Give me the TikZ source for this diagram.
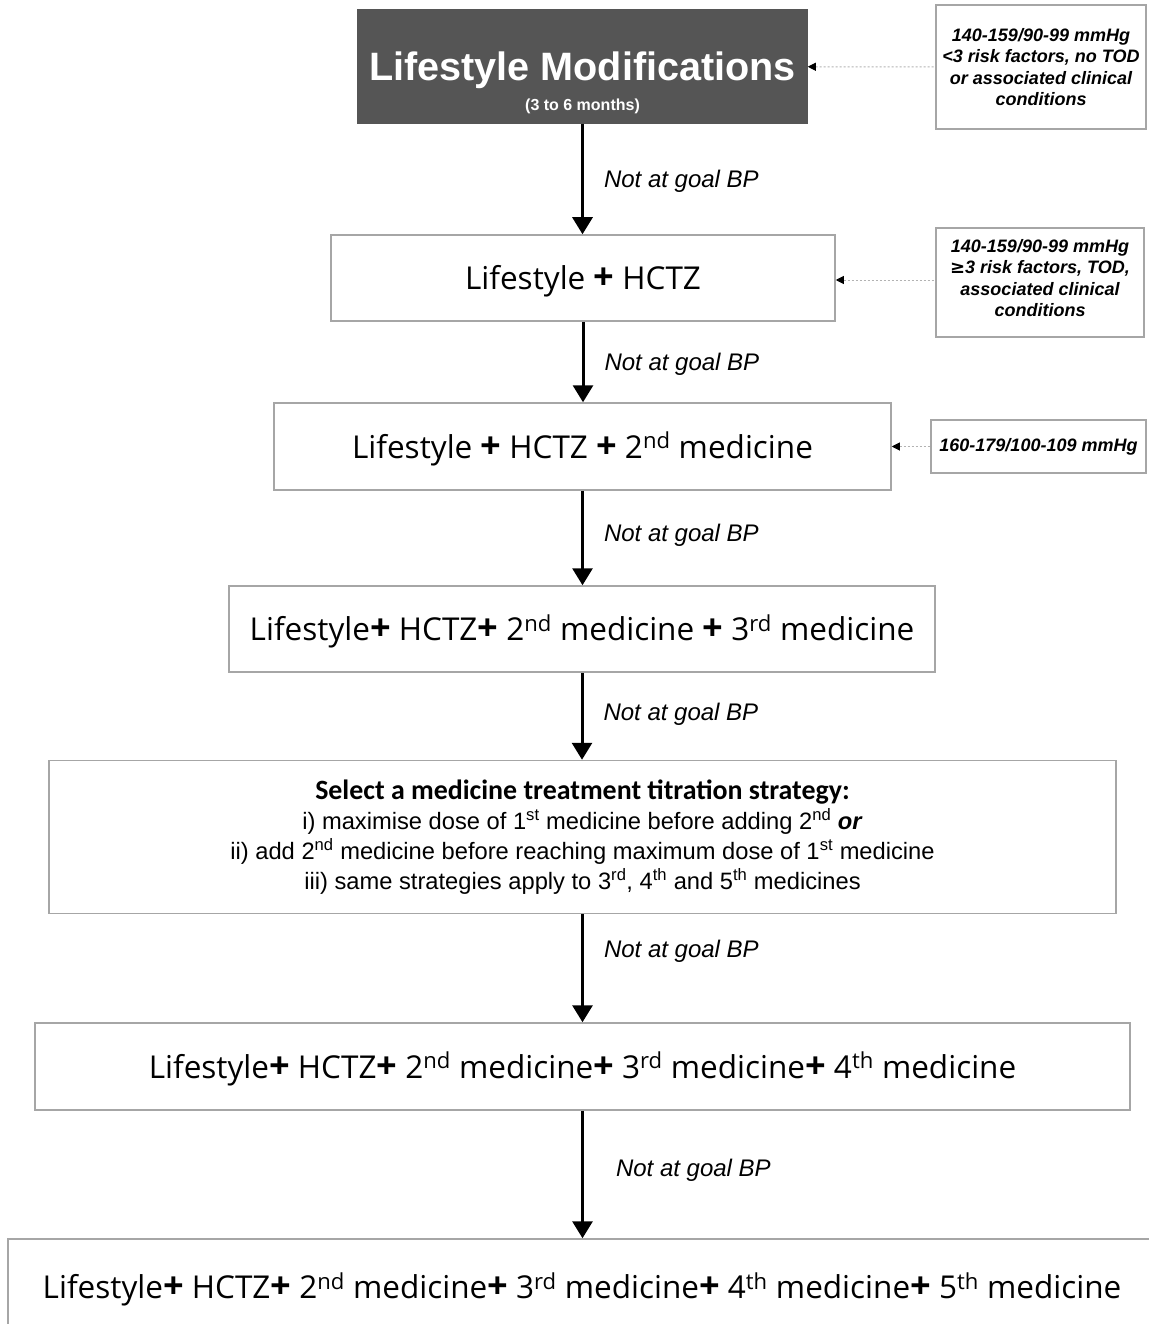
\documentclass[tikz,border=0pt]{standalone}
\usepackage{fontspec}
\setmainfont{Liberation Sans}
\newfontfamily\boxfont{Open Sans}
\newfontfamily\narrowfont{Carlito}
\usetikzlibrary{arrows.meta}
\definecolor{darkbox}{HTML}{555555}
\definecolor{boxline}{HTML}{A6A6A6}
\newcommand\addsign{\textbf{\scalebox{1.15}{+}}}
\newcommand\sups[1]{\textsuperscript{#1}}

\begin{document}
\begin{tikzpicture}[x=1pt,y=-1pt,->,>={Triangle[width=20pt,length=17pt]},line width=3pt,
                    box/.style={draw=boxline,line width=1.5pt,fill=white,inner sep=0pt,align=center},
                    main node/.style={box,fill=darkbox,draw=darkbox,text=white},
                    step node/.style={box,font=\boxfont\fontsize{31.5}{36}\selectfont,text height=23pt,text depth=0pt},
                    note/.style={box,font=\bfseries\itshape\fontsize{18}{21.5}\selectfont},
                    hint/.style={<-,>={Triangle[width=8pt,length=8pt,color=black]},draw=gray!60,
                                 line width=1pt,dash pattern=on 2pt off 2pt}]
    \useasboundingbox (0,0) rectangle (1148,1324);

      \node[main node,minimum width=449pt,minimum height=113pt,text height=28pt,text depth=0pt,
            font=\bfseries\fontsize{39.6}{44}\selectfont,
            label={[anchor=south,yshift=5pt,text=white,font=\bfseries\fontsize{16}{18}\selectfont]south:(3 to 6 months)}]
        (1) at (582.5,66.5) {Lifestyle Modifications};
      \node[step node,minimum width=504pt,minimum height=86pt] (2) at (583,278)
        {Lifestyle \addsign{} HCTZ};
      \node[step node,minimum width=617pt,minimum height=87pt] (3) at (582.5,446.5)
        {Lifestyle \addsign{} HCTZ \addsign{} 2\sups{nd} medicine};
      \node[step node,minimum width=706pt,minimum height=86pt] (4) at (582,629)
        {Lifestyle\addsign{} HCTZ\addsign{} 2\sups{nd} medicine \addsign{} 3\sups{rd} medicine};
      \node[box,minimum width=1067pt,minimum height=153pt,font=\fontsize{23.7}{30}\selectfont] (5) at (582.5,837)
        {{\narrowfont\bfseries\fontsize{27.9}{30}\selectfont Select a medicine treatment titration strategy:}\\
         i) maximise dose of 1\sups{st} medicine before adding 2\sups{nd} \textbf{\textit{or}}\\
         ii) add 2\sups{nd} medicine before reaching maximum dose of 1\sups{st} medicine\\
         iii) same strategies apply to 3\sups{rd}, 4\sups{th} and 5\sups{th} medicines};
      \node[step node,minimum width=1095pt,minimum height=87pt] (6) at (582.5,1066.5)
        {Lifestyle\addsign{} HCTZ\addsign{} 2\sups{nd} medicine\addsign{} 3\sups{rd} medicine\addsign{} 4\sups{th} medicine};
      \node[step node,minimum width=1148pt,minimum height=96pt] (7) at (582,1287)
        {Lifestyle\addsign{} HCTZ\addsign{} 2\sups{nd} medicine\addsign{} 3\sups{rd} medicine\addsign{} 4\sups{th} medicine\addsign{} 5\sups{th} medicine};

      \node[note,minimum width=210pt,minimum height=124pt] (n1) at (1041,67)
        {140-159/90-99 mmHg\\<3 risk factors, no TOD\\or associated clinical\\conditions};
      \node[note,minimum width=208pt,minimum height=109pt,text depth=9pt] (n2) at (1040,282.5)
        {140-159/90-99 mmHg\\{\fontspec{DejaVu Sans}\bfseries\itshape ≥}3 risk factors, TOD,\\associated clinical\\conditions};
      \node[note,minimum width=215pt,minimum height=53pt] (n3) at (1038.5,446.5)
        {160-179/100-109 mmHg};

      \path[every node/.style={right,font=\itshape\fontsize{24}{26}\selectfont,inner sep=0pt,xshift=20pt,yshift=-2.5pt}]
        (1.south) edge node {Not at goal BP} (1.south |- 2.north)
        (2.south) edge node {Not at goal BP} (2.south |- 3.north)
        (3.south) edge node [pos=0.45] {Not at goal BP} (3.south |- 4.north)
        (4.south) edge node [pos=0.45] {Not at goal BP} (4.south |- 5.north)
        (5.south) edge node [pos=0.32] {Not at goal BP} (5.south |- 6.north)
        (6.south) edge node [pos=0.45,xshift=12pt] {Not at goal BP} (6.south |- 7.north);

      \draw[hint] (1) -- (n1);
      \draw[hint] (2.east |- 0,280) -- (n2.west |- 0,280);
      \draw[hint] (3) -- (n3);

    \end{tikzpicture}
\end{document}
